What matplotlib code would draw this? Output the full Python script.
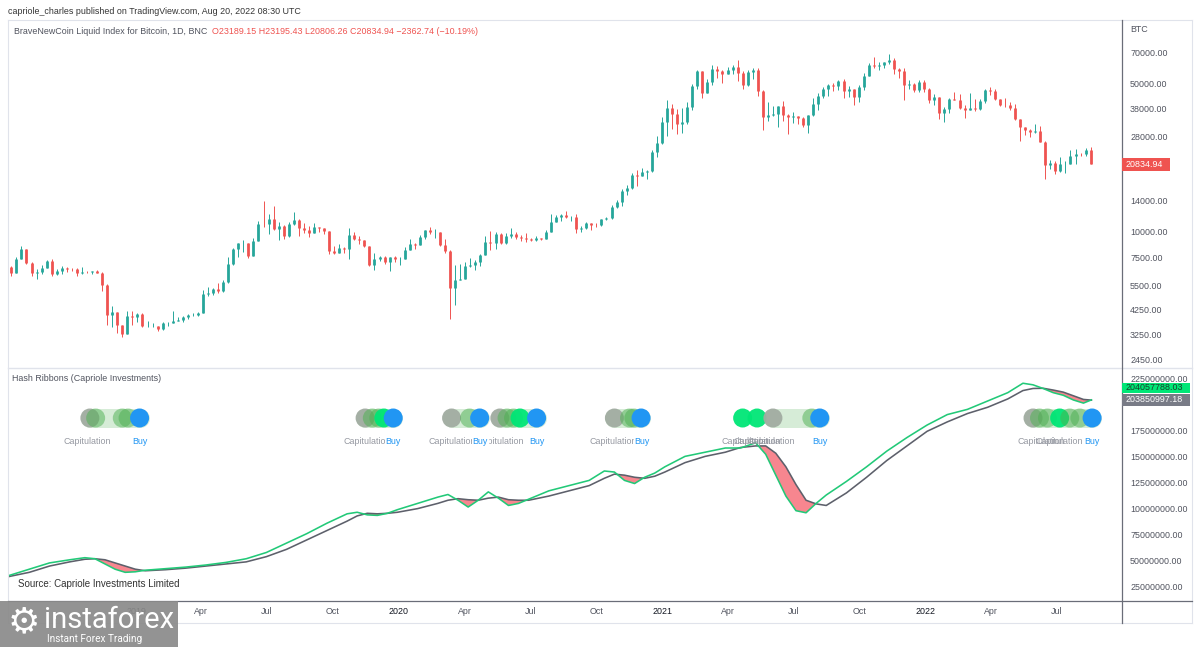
import numpy as np
import pandas as pd
import matplotlib
matplotlib.use('Agg')
import matplotlib.pyplot as plt
import matplotlib.dates as mdates
import matplotlib.transforms as mtransforms
from matplotlib.patches import Rectangle
from matplotlib.lines import Line2D
from matplotlib.ticker import FixedLocator, FixedFormatter, NullLocator

plt.rcParams['font.family'] = ['Liberation Sans', 'DejaVu Sans']

# ---------------- DATA ----------------
# Weekly BTC candles (weeks starting 2018-07-09)
btc_open0 = 6750
btc_close = [6360, 7400, 8200, 7030, 6300, 6400, 6700, 7200, 6250, 6500, 6700, 6625, 6600, 6300, 6420, 6400, 6450, 6350, 5550, 4000, 4150, 3600, 3250, 3950, 3900,
             4050, 3550, 3550, 3550, 3450, 3650, 3650, 3750, 3800, 3900, 4000, 4000, 4100, 5050, 5100, 5300, 5200, 5750, 6950, 8200, 8750, 8750, 7650, 8950, 10850, 10800,
             11450, 10200, 10550, 9500, 10800, 11350, 10300, 10150, 9750, 10450, 10300, 10000, 8050, 7850, 8300, 8250, 9550, 9200, 9050, 8500, 6900, 7400, 7500, 7100, 7500, 7350, 7400,
             8150, 8700, 8600, 9350, 10150, 9900, 9950, 8550, 8050, 5350, 5850, 5900, 6800, 6900, 7100, 7700, 8900, 8750, 9700, 8750, 9450, 9650, 9400, 9300, 9150, 9050,
             9300, 9200, 9950, 11100, 11650, 11900, 11650, 11700, 10250, 10350, 10900, 10750, 10650, 11400, 11500, 13050, 13750, 15500, 15950, 18400, 18200, 19150, 19250, 23850, 26300, 33000,
             38200, 35800, 32300, 33100, 38900, 48700, 57500, 45150, 51200, 59000, 57500, 55800, 58200, 59800, 56200, 49100, 56600, 58300, 46400, 34700, 35700, 35800, 39100, 35600, 34700, 35300,
             34300, 31800, 35400, 39900, 43800, 47100, 49300, 48900, 51800, 46000, 47300, 43200, 48200, 54600, 61500, 60900, 61300, 63300, 65000, 58600, 57300, 49400, 50100, 46700, 50800, 47300,
             41900, 43100, 36300, 37900, 42400, 42100, 38400, 37700, 38400, 37800, 41300, 46800, 46400, 42200, 39700, 39500, 38500, 34100, 31300, 30300, 29400, 29900, 26600, 20500, 21000, 19300,
             20800, 20800, 22600, 23300, 23200, 24300, 20834.94]
btc_high = [6800, 7550, 8500, 8250, 7150, 6600, 6900, 7300, 7400, 6600, 6800, 6750, 6650, 6700, 6750, 6500, 6500, 6550, 6400, 5600, 4400, 4150, 3600, 4200, 4200,
            4100, 4100, 3750, 3650, 3550, 3700, 3700, 4200, 3900, 3950, 4050, 4100, 4150, 5250, 5450, 5350, 5650, 5850, 7500, 8300, 8800, 9100, 8800, 9300, 11200, 13850,
            12000, 13200, 11100, 10650, 11000, 12300, 11450, 10900, 10600, 10900, 10450, 10350, 10050, 8500, 8650, 8400, 10350, 9900, 9500, 9100, 8500, 7850, 7650, 7600, 7550, 7650, 7500,
            8450, 9200, 8750, 9550, 10150, 10500, 10200, 9950, 9200, 8100, 6900, 6950, 7150, 7450, 7300, 7750, 9450, 10050, 9900, 9850, 9750, 10400, 9950, 9600, 9800, 9300,
            9450, 9300, 10100, 12100, 11950, 12100, 12450, 11800, 12050, 10550, 11100, 10950, 10950, 11450, 11700, 13350, 14000, 15900, 16500, 18800, 19400, 19900, 19450, 24300, 28400, 34800,
            41900, 39900, 37800, 38500, 40900, 49700, 58300, 57500, 52600, 61700, 60500, 58400, 60100, 61200, 64800, 57500, 58400, 59500, 59600, 46600, 40800, 39400, 39400, 41300, 36000, 36600,
            35100, 34700, 35400, 42600, 45300, 48100, 49800, 50500, 51900, 52900, 48800, 47100, 49200, 56500, 62900, 67000, 63700, 63500, 69000, 66300, 59200, 59100, 51900, 50400, 51900, 52100,
            47600, 44500, 43500, 38900, 42600, 45800, 44500, 39800, 45400, 42500, 42400, 47000, 48200, 47100, 42400, 42900, 40800, 40000, 34200, 31300, 30600, 32200, 31600, 26900, 21800, 21400,
            22400, 21600, 24200, 24600, 23600, 24900, 25200]
btc_low = [6100, 6350, 7400, 6950, 6100, 5900, 6250, 6650, 6150, 6200, 6250, 6400, 6450, 6150, 6250, 6350, 6250, 6300, 5200, 3600, 3500, 3300, 3150, 3250, 3600,
           3700, 3500, 3500, 3500, 3350, 3380, 3550, 3650, 3750, 3700, 3850, 3950, 3950, 4100, 4950, 5000, 5100, 5150, 5700, 6900, 7550, 8000, 7450, 7600, 8950, 10500,
           9700, 10100, 9100, 9150, 9400, 10700, 9500, 9850, 9350, 9750, 9950, 9650, 7800, 7750, 7850, 7850, 7350, 9050, 8700, 8400, 6800, 6550, 7250, 7000, 6450, 7100, 6900,
           7350, 8100, 8250, 8550, 9150, 9700, 9300, 8500, 7900, 3850, 4450, 5850, 5900, 6750, 6550, 6800, 7700, 8100, 8200, 8700, 8650, 9300, 9200, 9000, 8900, 8950,
           9000, 9050, 9150, 9900, 11050, 11200, 11500, 11150, 9850, 9900, 10250, 10150, 10450, 10550, 11250, 11400, 12900, 13200, 14800, 15800, 16300, 18200, 17600, 19000, 22400, 25900,
           28200, 30400, 28900, 29300, 32300, 37400, 47000, 43000, 45100, 49300, 53300, 50500, 55800, 55500, 51600, 47200, 48800, 52900, 43900, 30100, 33400, 35100, 31300, 33400, 28800, 32700,
           32100, 31100, 29300, 35200, 37400, 42800, 43900, 46300, 46800, 42800, 43400, 39600, 40800, 46900, 54400, 59700, 58000, 59700, 62300, 55600, 53300, 42000, 47100, 45600, 45600, 45700,
           40700, 39600, 34000, 32900, 36300, 41700, 38000, 34300, 37600, 37200, 37600, 40500, 44200, 41900, 39200, 38600, 37600, 33700, 26700, 28700, 28000, 29300, 26600, 17600, 19700, 18700,
           19000, 18900, 20800, 20800, 22700, 22700, 20806.26]

# Hash Ribbons: 30d (fast, green) and 60d (slow, gray) hash-rate averages, in millions
hr_dates = ['2018-07-09', '2018-08-06', '2018-09-03', '2018-10-01', '2018-10-22', '2018-11-05', '2018-11-19', '2018-12-03', '2018-12-17', '2018-12-31',
            '2019-01-14', '2019-02-11', '2019-03-11', '2019-04-08', '2019-05-06', '2019-06-03', '2019-07-01', '2019-07-29', '2019-08-26', '2019-09-23',
            '2019-10-21', '2019-11-04', '2019-11-18', '2019-12-02', '2019-12-16', '2019-12-30', '2020-01-27', '2020-02-24', '2020-03-09', '2020-03-23',
            '2020-04-06', '2020-04-20', '2020-05-04', '2020-05-18', '2020-06-01', '2020-06-15', '2020-06-29', '2020-07-27', '2020-08-24', '2020-09-21',
            '2020-10-12', '2020-10-26', '2020-11-09', '2020-11-23', '2020-12-07', '2020-12-21', '2021-01-04', '2021-02-01', '2021-03-01', '2021-03-29',
            '2021-04-19', '2021-05-10', '2021-05-24', '2021-06-07', '2021-06-21', '2021-07-05', '2021-07-19', '2021-08-02', '2021-08-16', '2021-09-13',
            '2021-10-11', '2021-11-08', '2021-12-06', '2022-01-03', '2022-01-31', '2022-02-28', '2022-03-28', '2022-04-25', '2022-05-16', '2022-05-30',
            '2022-06-13', '2022-06-27', '2022-07-11', '2022-07-25', '2022-08-08', '2022-08-19']
hr_fast = [36, 42, 48, 51, 53, 52, 47, 42, 39, 39.5,
           41, 42.5, 44, 46, 48.5, 52, 58, 67, 76, 86,
           95, 96.5, 94, 93.5, 95.5, 99, 105, 111, 113.5, 108,
           101.5, 108, 116, 110, 103, 105, 109, 117, 122, 127,
           136, 135, 127, 124, 130, 134, 140, 150, 154, 158,
           158, 163, 152, 132, 112, 98, 96, 105, 113, 126,
           140, 155, 168, 180, 190, 195, 203, 211, 220, 218.5,
           215, 211, 208.5, 204, 201, 204.06]
hr_slow = [35, 39, 45, 49, 51.5, 52, 51, 48, 45, 42,
           40.5, 41.5, 43, 45, 47, 49, 54, 61, 70, 79,
           88, 93, 95.5, 95, 95.5, 96.5, 100, 105, 108, 109.5,
           108.5, 108, 110, 111, 108.5, 108, 108, 112, 117, 122,
           129, 133, 132, 130, 129, 131, 135, 144, 150, 154,
           158.5, 160, 160, 153, 140, 123, 108, 104.5, 103, 115,
           130, 146, 160, 174, 183, 191, 197, 205, 213, 215,
           215.2, 213.5, 211.5, 208, 204.5, 203.85]

# Signal markers (Capitulation / Buy)
mk_dates = ['2018-10-29', '2018-11-06', '2018-12-13', '2018-12-21', '2019-01-06',
            '2019-11-15', '2019-11-25', '2019-12-04', '2019-12-11', '2019-12-24',
            '2020-03-14', '2020-04-08', '2020-04-22',
            '2020-05-20', '2020-05-30', '2020-06-08', '2020-06-17', '2020-07-10',
            '2020-10-26', '2020-11-16', '2020-11-22', '2020-12-02',
            '2021-04-22', '2021-05-12', '2021-06-03', '2021-07-27', '2021-08-07',
            '2022-05-30', '2022-06-08', '2022-06-19', '2022-07-06', '2022-07-20', '2022-08-03', '2022-08-20']
mk_kinds = ['gray', 'green', 'green', 'green', 'blue',
            'gray', 'green', 'green', 'lime', 'blue',
            'gray', 'green', 'blue',
            'gray', 'green', 'green', 'lime', 'blue',
            'gray', 'green', 'green', 'blue',
            'lime', 'lime', 'gray', 'green', 'blue',
            'gray', 'green', 'green', 'lime', 'green', 'green', 'blue']
band_start = ['2018-10-29', '2019-11-15', '2020-03-14', '2020-05-20', '2020-10-26', '2021-06-03', '2022-05-30']
band_end = ['2019-01-06', '2019-12-24', '2020-04-22', '2020-07-10', '2020-12-02', '2021-08-07', '2022-08-20']
lbl_dates = ['2018-10-26', '2019-01-06', '2019-11-18', '2019-12-24', '2020-03-15', '2020-04-23', '2020-05-20', '2020-07-10',
             '2020-10-25', '2020-12-03', '2021-04-25', '2021-05-12', '2021-06-01', '2021-08-07', '2022-06-10', '2022-07-05', '2022-08-20']
lbl_texts = ['Capitulation', 'Buy', 'Capitulation', 'Buy', 'Capitulation', 'Buy', 'Capitulation', 'Buy',
             'Capitulation', 'Buy', 'Capitulation', 'Capitulation', 'Capitulation', 'Buy', 'Capitulation', 'Capitulation', 'Buy']

price_ticks = [70000, 50000, 38000, 28000, 14000, 10000, 7500, 5500, 4250, 3250, 2450]
hash_ticks = [225, 175, 150, 125, 100, 75, 50, 25]
x_tick_dates = ['2019-01-01', '2019-04-01', '2019-07-01', '2019-10-01', '2020-01-01', '2020-04-01', '2020-07-01', '2020-10-01',
                '2021-01-01', '2021-04-01', '2021-07-01', '2021-10-01', '2022-01-01', '2022-04-01', '2022-07-01']
x_tick_labels = ['2019', 'Apr', 'Jul', 'Oct', '2020', 'Apr', 'Jul', 'Oct', '2021', 'Apr', 'Jul', 'Oct', '2022', 'Apr', 'Jul']

last_price = '20834.94'
last_fast = '204057788.03'
last_slow = '203850997.18'

# ---------------- FIGURE ----------------
W, H = 1200, 647
fig = plt.figure(figsize=(12, 6.47), dpi=100)
fig.patch.set_facecolor('white')


def fx(x):
    return x / W


def fy(y):
    return 1 - y / H


def d2n(lst):
    return mdates.date2num(pd.to_datetime(lst).to_pydatetime())


TXT = '#50535e'
FS = 6.4

ax1 = fig.add_axes([fx(8), fy(367), fx(1122) - fx(8), fy(20) - fy(367)])
ax2 = fig.add_axes([fx(8), fy(600), fx(1122) - fx(8), fy(368) - fy(600)])
xl = d2n(['2018-07-07 09:00', '2022-09-30 12:00'])
for ax in (ax1, ax2):
    ax.set_xlim(xl[0], xl[1])
    for sp in ax.spines.values():
        sp.set_visible(False)
    ax.set_facecolor('none')

# ---- candles ----
wk = pd.date_range('2018-07-09', periods=len(btc_close), freq='7D') + pd.Timedelta(days=3)
xc = mdates.date2num(wk.to_pydatetime())
c = np.array(btc_close, dtype=float)
o = np.array([btc_open0] + btc_close[:-1], dtype=float)
hh = np.array(btc_high, dtype=float)
ll = np.array(btc_low, dtype=float)
up = c >= o
cols = np.where(up, '#26a69a', '#ef5350')
ax1.vlines(xc, np.minimum(ll, np.minimum(o, c)), np.maximum(hh, np.maximum(o, c)), colors=cols, lw=0.7)
ax1.vlines(xc, np.minimum(o, c), np.maximum(o, c), colors=cols, lw=2.0)
ax1.set_yscale('log')
ax1.set_ylim(2267, 100370)
ax1.yaxis.set_major_locator(FixedLocator(price_ticks))
ax1.yaxis.set_major_formatter(FixedFormatter(['%.2f' % v for v in price_ticks]))
ax1.yaxis.set_minor_locator(NullLocator())
ax1.tick_params(axis='y', which='both', length=0, pad=5.8, labelright=True, labelleft=False,
                labelsize=FS, labelcolor=TXT)
ax1.tick_params(axis='x', length=0, labelbottom=False)

# ---- hash ribbons ----
hd = d2n(hr_dates)
g = np.array(hr_fast) * 1e6
s = np.array(hr_slow) * 1e6
ax2.fill_between(hd, g, s, where=g < s, interpolate=True, color='#f23645', alpha=0.6, lw=0)
ax2.plot(hd, s, color='#5d606b', lw=1.15)
ax2.plot(hd, g, color='#22c978', lw=1.15)
ax2.set_ylim(12.5e6, 234.6e6)
ht = [v * 1e6 for v in hash_ticks]
ax2.yaxis.set_major_locator(FixedLocator(ht))
ax2.yaxis.set_major_formatter(FixedFormatter(['%.2f' % v for v in ht]))
ax2.tick_params(axis='y', length=0, pad=5.8, labelright=True, labelleft=False, labelsize=FS, labelcolor=TXT)
ax2.set_xticks(d2n(x_tick_dates))
ax2.set_xticklabels(x_tick_labels)
ax2.tick_params(axis='x', length=0, pad=5, labelsize=FS, labelcolor=TXT)
for lab in ax2.get_xticklabels():
    if lab.get_text().isdigit():
        lab.set_color('#131722')

trans = mtransforms.blended_transform_factory(ax2.transData, ax2.transAxes)
yc = 1 - (418 - 368) / 232
yl = 1 - (441.5 - 368) / 232
dia = 19 * 0.72
for a, b in zip(d2n(band_start), d2n(band_end)):
    ax2.plot([a, b], [yc, yc], transform=trans, lw=dia, solid_capstyle='round', color='#a5d6a7', alpha=0.45, zorder=3)
kind_style = {'gray': ('#a2aca2', 0.95), 'green': ('#4caf50', 0.5), 'lime': ('#00e676', 0.95), 'blue': ('#2196f3', 1.0)}
for d, k in zip(d2n(mk_dates), mk_kinds):
    colr, al = kind_style[k]
    ax2.scatter([d], [yc], s=dia ** 2, color=colr, alpha=al, edgecolors='none', transform=trans, zorder=4)
for d, t in zip(d2n(lbl_dates), lbl_texts):
    if t == 'Buy':
        ax2.text(d, yl, t, transform=trans, ha='center', va='center', fontsize=FS, color='#2196f3', zorder=6,
                 bbox=dict(facecolor='white', edgecolor='none', pad=0.3))
    else:
        ax2.text(d, yl, t, transform=trans, ha='center', va='center', fontsize=FS, color='#9598a1', zorder=5)

# ---- texts ----
fig.text(fx(8), fy(11), 'capriole_charles published on TradingView.com, Aug 20, 2022 08:30 UTC',
         fontsize=FS, color='#333333', va='center', ha='left')
t1 = fig.text(fx(14), fy(31), 'BraveNewCoin Liquid Index for Bitcoin, 1D, BNC', fontsize=FS, color=TXT, va='center', ha='left')
fig.canvas.draw()
bb = t1.get_window_extent()
fig.text((bb.x1 + 5) / W, fy(31), 'O23189.15 H23195.43 L20806.26 C20834.94 \u22122362.74 (\u221210.19%)',
         fontsize=FS, color='#ef5350', va='center', ha='left')
fig.text(fx(12), fy(378), 'Hash Ribbons (Capriole Investments)', fontsize=FS, color=TXT, va='center', ha='left')
fig.text(fx(18), fy(584), 'Source: Capriole Investments Limited', fontsize=7.0, color='#333333', va='center', ha='left')
fig.text(fx(1130), fy(30), 'BTC', fontsize=FS, color=TXT, va='center', ha='left')

# ---- frame lines ----
def hline(y, x0, x1, col, lw):
    fig.add_artist(Line2D([fx(x0), fx(x1)], [fy(y), fy(y)], transform=fig.transFigure, color=col, lw=lw, zorder=1))


def vline(x, y0, y1, col, lw):
    fig.add_artist(Line2D([fx(x), fx(x)], [fy(y0), fy(y1)], transform=fig.transFigure, color=col, lw=lw, zorder=1))


hline(19.5, 8, 1192, '#e0e3eb', 0.8)
hline(622.5, 8, 1192, '#e0e3eb', 0.8)
vline(8, 19.5, 622.5, '#e0e3eb', 0.8)
vline(1192, 19.5, 622.5, '#e0e3eb', 0.8)
hline(367.5, 8, 1192, '#e0e3eb', 1.0)
hline(600.5, 8, 1192, '#6a6d78', 0.9)
vline(1122, 19.5, 622.5, '#6a6d78', 0.9)

# ---- last value labels ----
def tag(y0, y1, x1, bg, fg, txt):
    fig.add_artist(Rectangle((fx(1122), fy(y1)), fx(x1) - fx(1122), fy(y0) - fy(y1), transform=fig.transFigure,
                             facecolor=bg, edgecolor='none', zorder=8))
    fig.text(fx(1126), fy((y0 + y1) / 2), txt, fontsize=FS, color=fg, va='center', ha='left', zorder=9)


tag(158.5, 170.5, 1170, '#ef5350', 'white', last_price)
tag(382.5, 393, 1190, '#00e676', '#17402a', last_fast)
tag(393.5, 405.5, 1190, '#787b86', 'white', last_slow)

# ---- watermark ----
fig.add_artist(Rectangle((0, fy(647)), fx(178), fy(601) - fy(647), transform=fig.transFigure,
                         facecolor='#8a8a8a', edgecolor='none', alpha=0.92, zorder=20))
fig.text(fx(24), fy(622), '\u2699', fontsize=26, color='white', va='center', ha='center', zorder=21, family='DejaVu Sans')
fig.text(fx(44), fy(620), 'instaforex', fontsize=21, color='white', va='center', ha='left', zorder=21, family='Roboto')
fig.text(fx(47), fy(639), 'Instant Forex Trading', fontsize=7.2, color='white', va='center', ha='left', zorder=21, family='Roboto')

fig.savefig('out.png', dpi=100, facecolor='white')
